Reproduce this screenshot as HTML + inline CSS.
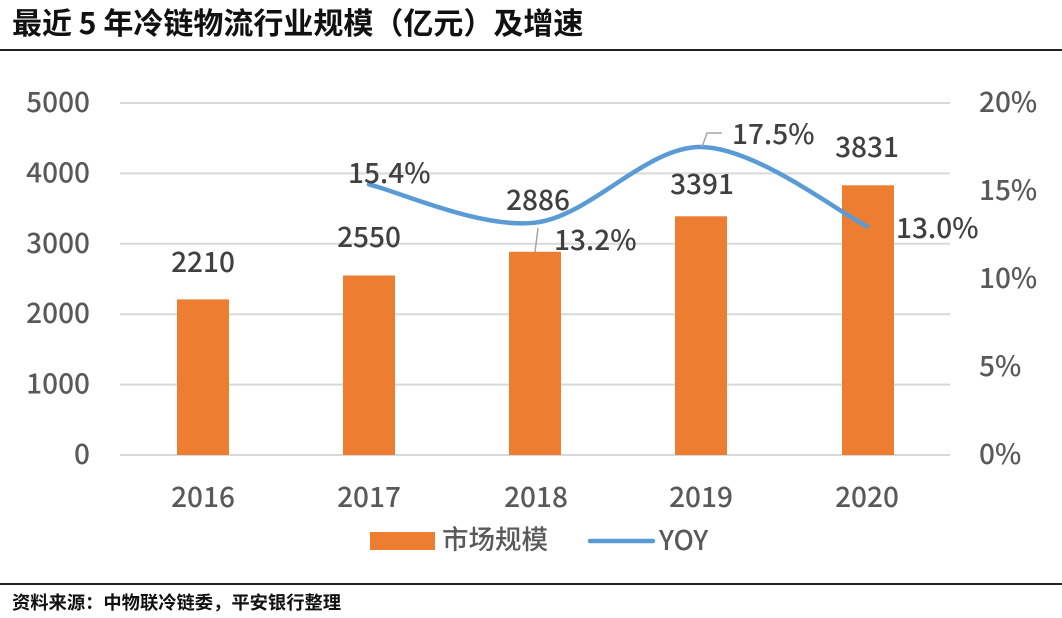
<!DOCTYPE html>
<html>
<head>
<meta charset="utf-8">
<style>
html,body{margin:0;padding:0;background:#fff;}
body{width:1062px;height:618px;overflow:hidden;}
svg{display:block;}
text{font-family:"Noto Sans CJK SC","Liberation Sans",sans-serif;}
</style>
</head>
<body>
<svg width="1062" height="618" viewBox="0 0 1062 618" xmlns="http://www.w3.org/2000/svg">
  <rect width="1062" height="618" fill="#fff"/>
  <!-- Title -->
  <text x="12" y="34" font-size="30" font-weight="bold" fill="#111">最近 5 年冷链物流行业规模（亿元）及增速</text>
  <line x1="0" y1="50" x2="1062" y2="50" stroke="#222" stroke-width="2"/>

  <!-- gridlines -->
  <g stroke="#d9d9d9" stroke-width="2">
    <line x1="120" y1="103" x2="950" y2="103"/>
    <line x1="120" y1="173.4" x2="950" y2="173.4"/>
    <line x1="120" y1="243.8" x2="950" y2="243.8"/>
    <line x1="120" y1="314.2" x2="950" y2="314.2"/>
    <line x1="120" y1="384.6" x2="950" y2="384.6"/>
    <line x1="120" y1="455" x2="950" y2="455"/>
  </g>

  <!-- left axis labels -->
  <g font-size="28" font-weight="500" fill="#595959" text-anchor="end">
    <text x="90" y="112">5000</text>
    <text x="90" y="182.4">4000</text>
    <text x="90" y="252.8">3000</text>
    <text x="90" y="323.2">2000</text>
    <text x="90" y="393.6">1000</text>
    <text x="90" y="464">0</text>
  </g>
  <!-- right axis labels -->
  <g font-size="28" font-weight="500" fill="#595959" text-anchor="start">
    <text x="979" y="112">20%</text>
    <text x="979" y="200">15%</text>
    <text x="979" y="288">10%</text>
    <text x="979" y="376">5%</text>
    <text x="979" y="464">0%</text>
  </g>

  <!-- bars -->
  <g fill="#ED7D31">
    <rect x="177" y="299.4" width="52" height="155.6"/>
    <rect x="343" y="275.5" width="52" height="179.5"/>
    <rect x="509" y="251.8" width="52" height="203.2"/>
    <rect x="675" y="216.3" width="52" height="238.7"/>
    <rect x="842" y="185.3" width="52" height="269.7"/>
  </g>

  <!-- bar data labels -->
  <g font-size="28" font-weight="500" fill="#404040" text-anchor="middle">
    <text x="203" y="272">2210</text>
    <text x="369" y="247">2550</text>
    <text x="538" y="210">2886</text>
    <text x="702" y="194">3391</text>
    <text x="867" y="157">3831</text>
  </g>

  <!-- line -->
  <path d="M369,184.4 C396.7,190.8 479.7,228.9 535,222.7 C590.3,216.5 645.7,146.4 701,147 C756.3,147.6 839.3,213 867,226.2"
        fill="none" stroke="#5B9BD5" stroke-width="4.5" stroke-linecap="round"/>

  <!-- leader lines -->
  <g stroke="#a6a6a6" stroke-width="1.5" fill="none">
    <polyline points="538,228 535,252"/>
    <polyline points="702,147 707,133 722,133"/>
  </g>

  <!-- line data labels -->
  <g font-size="28" font-weight="500" fill="#404040" text-anchor="start">
    <text x="348" y="183">15.4%</text>
    <text x="554" y="250">13.2%</text>
    <text x="732" y="144">17.5%</text>
    <text x="896" y="238">13.0%</text>
  </g>

  <!-- x axis labels -->
  <g font-size="28" font-weight="500" fill="#595959" text-anchor="middle">
    <text x="203" y="507">2016</text>
    <text x="369" y="507">2017</text>
    <text x="536" y="507">2018</text>
    <text x="701" y="507">2019</text>
    <text x="867" y="507">2020</text>
  </g>

  <!-- legend -->
  <rect x="370" y="532" width="65" height="18" fill="#ED7D31"/>
  <text x="442" y="549" font-size="26.5" font-weight="500" fill="#595959">市场规模</text>
  <line x1="590" y1="541" x2="653" y2="541" stroke="#5B9BD5" stroke-width="4.5" stroke-linecap="round"/>
  <text x="659" y="550" font-size="27" font-weight="500" fill="#595959">YOY</text>

  <!-- footer -->
  <line x1="0" y1="584" x2="1062" y2="584" stroke="#222" stroke-width="2"/>
  <text x="12" y="609" font-size="18.3" font-weight="bold" fill="#111">资料来源：中物联冷链委，平安银行整理</text>
</svg>
</body>
</html>
